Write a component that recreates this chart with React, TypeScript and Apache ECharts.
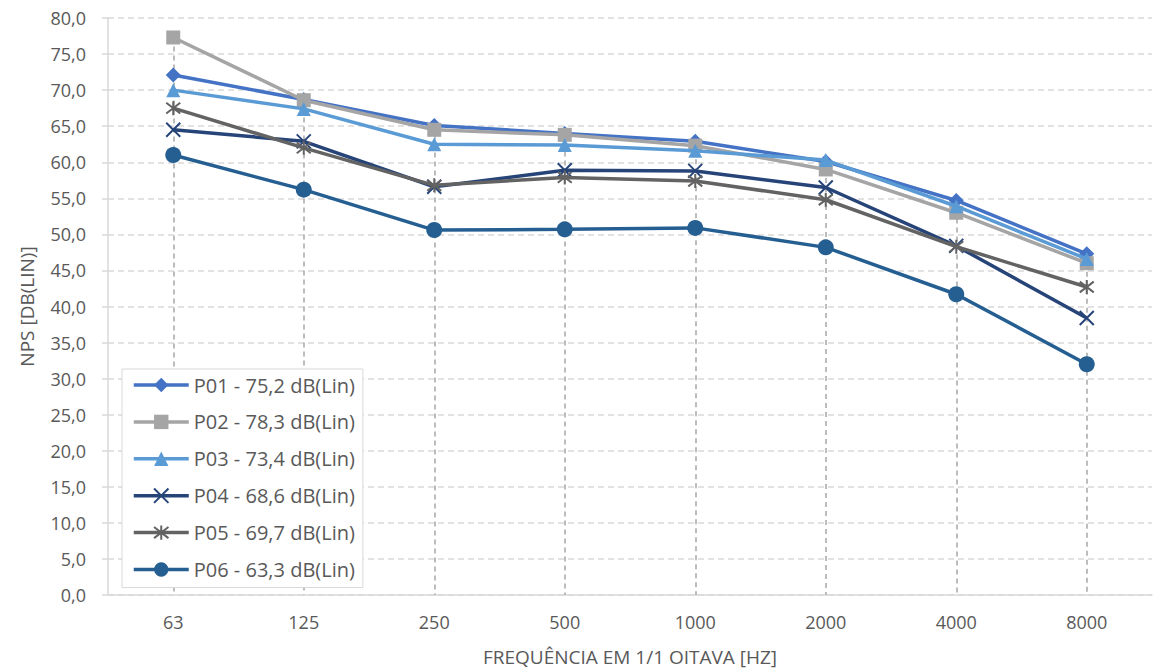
import React, { useEffect, useRef } from "react";
import * as echarts from "echarts";

const categories = ["63", "125", "250", "500", "1000", "2000", "4000", "8000"];
const seriesNames = [
  "P01 - 75,2 dB(Lin)",
  "P02 - 78,3 dB(Lin)",
  "P03 - 73,4 dB(Lin)",
  "P04 - 68,6 dB(Lin)",
  "P05 - 69,7 dB(Lin)",
  "P06 - 63,3 dB(Lin)",
];
const p01 = [72.1, 68.7, 65.1, 64.0, 62.9, 60.1, 54.7, 47.3];
const p02 = [77.3, 68.6, 64.5, 63.8, 62.3, 59.0, 53.0, 46.0];
const p03 = [70.0, 67.4, 62.5, 62.4, 61.6, 60.3, 53.9, 46.6];
const p04 = [64.5, 62.9, 56.6, 58.9, 58.8, 56.5, 48.4, 38.4];
const p05 = [67.5, 62.0, 56.8, 57.9, 57.4, 54.8, 48.3, 42.7];
const p06 = [61.0, 56.2, 50.6, 50.7, 50.9, 48.2, 41.7, 32.0];

const allSeries = [p01, p02, p03, p04, p05, p06];
const colors = ["#4472C4", "#A5A5A5", "#5B9BD5", "#264478", "#636363", "#255E91"];
const FONT = "'Open Sans', 'Noto Sans', sans-serif";

const symbols = [
  { symbol: "diamond", size: 15, stroke: false },
  { symbol: "rect", size: 14, stroke: false },
  { symbol: "triangle", size: 14, stroke: false },
  { symbol: "path://M0,0L10,10M10,0L0,10", size: 14, stroke: true },
  { symbol: "path://M0,0L10,10M10,0L0,10M5,-1.5L5,11.5", size: 14, stroke: true },
  { symbol: "circle", size: 16, stroke: false },
];

export default function App() {
  const ref = useRef<HTMLDivElement>(null);
  useEffect(() => {
    if (!ref.current) return;
    const chart = echarts.init(ref.current, null, { renderer: "svg" });
    const maxes = categories.map((_, i) => Math.max(...allSeries.map((s) => s[i])));
    const dropLines = categories.map((c, i) => [
      { coord: [c, maxes[i]] },
      { coord: [c, 0] },
    ]);
    const series: any[] = allSeries.map((data, k) => ({
      type: "line",
      name: seriesNames[k],
      data,
      symbol: symbols[k].symbol,
      symbolSize: symbols[k].size,
      lineStyle: { color: colors[k], width: 3.5 },
      itemStyle: symbols[k].stroke
        ? { color: "transparent", borderColor: colors[k], borderWidth: 2 }
        : { color: colors[k], borderWidth: 0 },
      color: colors[k],
      z: 2 + k,
      emphasis: { disabled: true },
      ...(k === 0
        ? {
            markLine: {
              silent: true,
              symbol: "none",
              label: { show: false },
              lineStyle: { color: "#A6A6A6", type: [5, 4], width: 1.5 },
              data: dropLines,
              z: 1,
            },
          }
        : {}),
    }));
    chart.setOption({
      animation: false,
      backgroundColor: "#ffffff",
      grid: { left: 108, right: 4, top: 18, bottom: 76 },
      legend: {
        orient: "vertical",
        left: 122,
        top: 369,
        backgroundColor: "#ffffff",
        borderColor: "#D9D9D9",
        borderWidth: 1,
        padding: [5, 8, 7, 10],
        itemWidth: 55,
        itemHeight: 18,
        itemGap: 14.9,
        lineStyle: { width: 3.5 },
        textStyle: { fontFamily: FONT, fontSize: 20, color: "#595959", lineHeight: 22 },
        data: seriesNames,
      },
      xAxis: {
        type: "category",
        data: categories,
        boundaryGap: true,
        name: "FREQUÊNCIA EM 1/1 OITAVA [HZ]",
        nameLocation: "middle",
        nameGap: 52,
        nameTextStyle: { fontFamily: FONT, fontSize: 19, color: "#595959" },
        axisLine: { show: true, lineStyle: { color: "#D9D9D9", width: 1.5 } },
        axisTick: { show: false },
        axisLabel: { fontFamily: FONT, fontSize: 18, color: "#595959", margin: 18 },
        splitLine: { show: false },
      },
      yAxis: {
        type: "value",
        min: 0,
        max: 80,
        interval: 5,
        name: "NPS [DB(LIN)]",
        nameLocation: "middle",
        nameGap: 72,
        nameTextStyle: { fontFamily: FONT, fontSize: 19, color: "#595959" },
        axisLine: { show: true, lineStyle: { color: "#D9D9D9", width: 1.5 } },
        axisTick: { show: true, length: 6, lineStyle: { color: "#D9D9D9", width: 1.5 } },
        axisLabel: {
          fontFamily: FONT,
          fontSize: 18,
          color: "#595959",
          margin: 22,
          formatter: (v: number) => v.toFixed(1).replace(".", ","),
        },
        splitLine: { show: true, lineStyle: { color: "#D9D9D9", type: [6, 4], width: 1.5 } },
      },
      series,
    });
    return () => chart.dispose();
  }, []);
  return <div ref={ref} style={{ width: 1156, height: 671, position: "absolute", left: 0, top: 0 }} />;
}
